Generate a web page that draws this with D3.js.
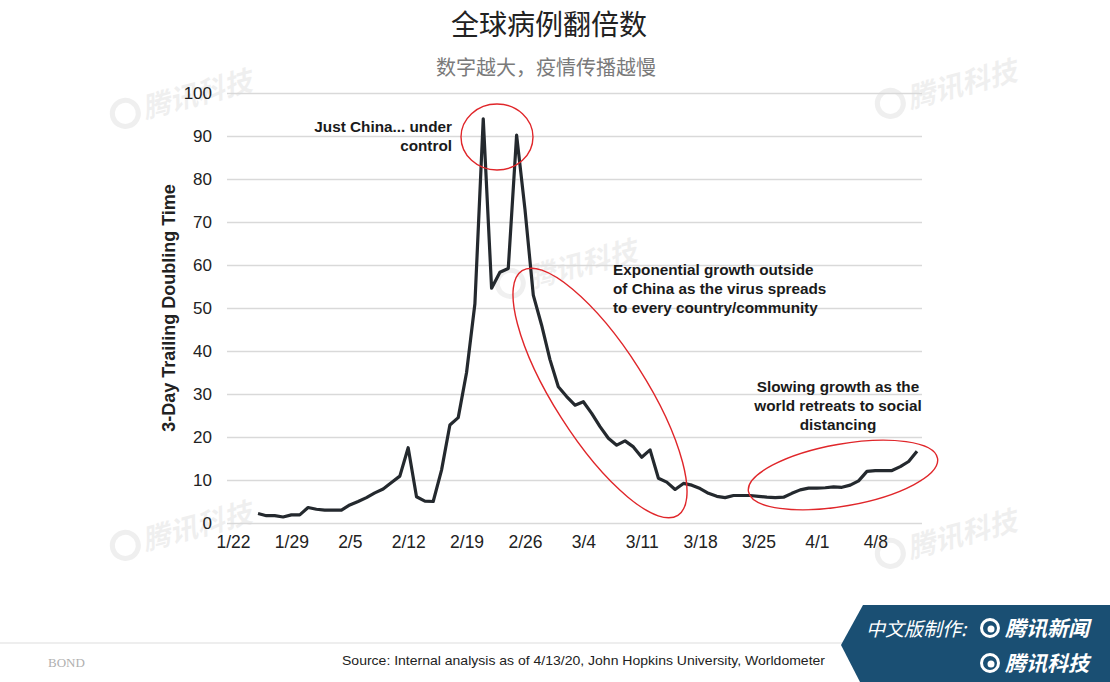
<!DOCTYPE html>
<html><head><meta charset="utf-8">
<script src="https://cdn.jsdelivr.net/npm/d3@7"></script>
<style>
html,body{margin:0;padding:0;background:#fff;}
svg{display:block;}
</style></head>
<body><svg id="c" width="1110" height="682"></svg>
<script>
// ---- data ----
const title = "全球病例翻倍数";
const subtitle = "数字越大，疫情传播越慢";
const yTitle = "3-Day Trailing Doubling Time";
const firstDate = "2020-01-25";
const values = [2.2,1.7,1.7,1.4,1.9,1.9,3.6,3.2,3.0,3.0,
  3.0,4.2,5.0,5.9,7.0,7.9,9.4,10.9,17.5,6.1,
  5.1,5.0,12.3,22.8,24.5,35,51,94,54.6,58.3,
  59.2,90.2,73,53,46,38,31.7,29.4,27.4,28.2,
  25.5,22.4,19.7,18.1,19.1,17.7,15.3,17.0,10.4,9.5,
  7.8,9.2,8.8,8.0,6.9,6.2,5.9,6.4,6.4,6.4,
  6.2,6.0,5.9,6.0,6.9,7.7,8.1,8.1,8.2,8.4,
  8.3,8.8,9.8,12.0,12.2,12.2,12.2,13.1,14.3,16.7];
const xTickLabels = ["1/22","1/29","2/5","2/12","2/19","2/26","3/4","3/11","3/18","3/25","4/1","4/8"];
const yTicks = [0,10,20,30,40,50,60,70,80,90,100];
const source = "Source: Internal analysis as of 4/13/20, John Hopkins University, Worldometer";
const notes = [
  {lines:["Just China... under","control"]},
  {lines:["Exponential growth outside","of China as the virus spreads","to every country/community"]},
  {lines:["Slowing growth as the","world retreats to social","distancing"]}
];

// ---- setup ----
const svg = d3.select("#c");
const parseDay = d3.utcParse("%Y-%m-%d");
const parseTick = s => parseDay("2020-" + s.split("/").map(v=>v.padStart(2,"0")).join("-"));
const start = parseDay(firstDate);
const dates = values.map((v,i)=> d3.utcDay.offset(start, i));
const DAY = 86400000;
const d0 = parseTick("1/22");
const x = d3.scaleUtc()
  .domain([new Date(+d0 - 0.72*DAY), new Date(+parseDay("2020-04-13") + 0.6*DAY)])
  .range([227, 922]);
const y = d3.scaleLinear().domain([0,100]).range([523, 93]);

const FONT = "'Liberation Sans', Arial, sans-serif";

// watermarks
const wm = [[175,98],[940,88],[560,268],[175,530],[940,538]];
wm.forEach(([cx,cy])=>{
  const g = svg.append("g").attr("transform",`translate(${cx},${cy}) rotate(-15)`).attr("opacity",0.06);
  g.append("circle").attr("cx",-52).attr("cy",2).attr("r",13).attr("fill","none").attr("stroke","#000").attr("stroke-width",5);
  g.append("text").attr("x",-34).attr("y",12).attr("font-family","'Noto Sans CJK SC'").attr("font-weight",700)
    .attr("font-size",28).attr("font-style","italic").attr("fill","#000").text("腾讯科技");
});

// title
svg.append("text").attr("x",549).attr("y",35).attr("text-anchor","middle")
  .attr("font-family","'Noto Sans CJK SC'").attr("font-size",28).attr("fill","#222").text(title);
svg.append("text").attr("x",546).attr("y",75).attr("text-anchor","middle")
  .attr("font-family","'Noto Sans CJK SC'").attr("font-size",20).attr("fill","#7a7a7a").text(subtitle);

// y grid + axis
const yAxis = svg.append("g").attr("transform","translate(227,0)")
  .call(d3.axisLeft(y).tickValues(yTicks).tickSize(-(922-227)).tickPadding(15));
yAxis.select(".domain").remove();
yAxis.selectAll(".tick line").attr("stroke","#d9d9d9").attr("stroke-width",1.3);
yAxis.selectAll(".tick text").attr("font-family",FONT).attr("font-size",17).attr("fill","#222");

// x axis
const xAxis = svg.append("g").attr("transform","translate(0,523)")
  .call(d3.axisBottom(x).tickValues(xTickLabels.map(parseTick)).tickFormat((d,i)=>xTickLabels[i]).tickSize(0).tickPadding(13));
xAxis.select(".domain").remove();
xAxis.selectAll(".tick text").attr("font-family",FONT).attr("font-size",17.5).attr("fill","#222");

// y title
svg.append("text").attr("transform",`translate(175,${y(50)}) rotate(-90)`).attr("text-anchor","middle")
  .attr("font-family",FONT).attr("font-weight",700).attr("font-size",18).attr("fill","#222").text(yTitle);

// line
svg.append("path").datum(values)
  .attr("fill","none").attr("stroke","#24292e").attr("stroke-width",3.2).attr("stroke-linejoin","round")
  .attr("d", d3.line().x((d,i)=>x(dates[i])).y(d=>y(d)));

// red ellipses
const red = "#e0262a";
const ell = (cx,cy,rx,ry,rot)=> svg.append("ellipse").attr("cx",0).attr("cy",0).attr("rx",rx).attr("ry",ry)
  .attr("transform",`translate(${cx},${cy}) rotate(${rot})`).attr("fill","none").attr("stroke",red).attr("stroke-width",1.4);
ell(497,137,36,33,0);
ell(600,393,145,46,57.5);
ell(843,475,96,31,-10);

// annotations
const ann = (lines, ax, ay, anchor, lh)=>{
  const t = svg.append("text").attr("font-family",FONT).attr("font-weight",700).attr("font-size",15.3)
    .attr("fill","#1a1a1a").attr("text-anchor",anchor);
  lines.forEach((l,i)=> t.append("tspan").attr("x",ax).attr("y",ay+i*lh).text(l));
};
ann(notes[0].lines, 452, 132, "end", 19);
ann(notes[1].lines, 613, 275, "start", 19);
ann(notes[2].lines, 838, 392, "middle", 19);

// footer
svg.append("line").attr("x1",0).attr("x2",850).attr("y1",643).attr("y2",643).attr("stroke","#eeeeee").attr("stroke-width",2);
svg.append("text").attr("x",48).attr("y",667).attr("font-family","'Liberation Serif', serif").attr("font-size",13)
  .attr("fill","#b0b0b0").text("BOND");
svg.append("text").attr("x",342).attr("y",665).attr("font-family","'Liberation Sans Narrow', 'Liberation Sans', sans-serif")
  .attr("font-size",13.5).attr("fill","#222").attr("textLength",483).attr("lengthAdjust","spacingAndGlyphs").text(source);

// badge
svg.append("path").attr("d","M863,605 L1110,605 L1110,682 L860,682 L841,645 Z").attr("fill","#1a4f73");
const logo = (cx,cy)=>{
  svg.append("circle").attr("cx",cx).attr("cy",cy).attr("r",8.5).attr("fill","none").attr("stroke","#fff").attr("stroke-width",3);
  svg.append("circle").attr("cx",cx+1).attr("cy",cy+1).attr("r",3.5).attr("fill","#fff");
};
svg.append("text").attr("x",866).attr("y",636).attr("font-family","'Noto Sans CJK SC'").attr("font-size",19)
  .attr("font-style","italic").attr("fill","#fff").text("中文版制作:");
logo(990,628);
svg.append("text").attr("x",1005).attr("y",636).attr("font-family","'Noto Sans CJK SC'").attr("font-weight",700).attr("font-size",21)
  .attr("font-style","italic").attr("fill","#fff").text("腾讯新闻");
logo(990,663);
svg.append("text").attr("x",1005).attr("y",671).attr("font-family","'Noto Sans CJK SC'").attr("font-weight",700).attr("font-size",21)
  .attr("font-style","italic").attr("fill","#fff").text("腾讯科技");
</script></body></html>
